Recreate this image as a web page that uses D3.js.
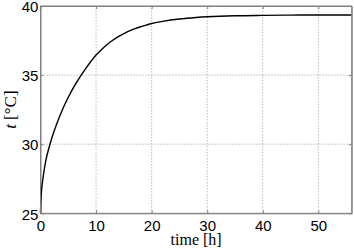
<!DOCTYPE html>
<html><head><meta charset="utf-8">
<script src="https://cdn.jsdelivr.net/npm/d3@7"></script>
<style>body{margin:0;background:#fff}svg{display:block}</style>
</head><body><div id="c"></div>
<script>
const timeH = [0, 0.05, 0.2, 0.4, 1, 2, 3, 4, 5, 6, 7, 8, 9, 10, 11, 12, 13, 14, 15, 16, 17, 18, 19, 20, 22, 25, 28, 30, 35, 40, 45, 50, 56];
const tempC = [25, 25.7, 26.7, 27.4, 28.9, 30.4, 31.55, 32.55, 33.4, 34.15, 34.8, 35.4, 35.95, 36.45, 36.86, 37.22, 37.52, 37.78, 38.0, 38.2, 38.36, 38.5, 38.62, 38.73, 38.89, 39.06, 39.17, 39.22, 39.29, 39.32, 39.34, 39.35, 39.35];
const xTicks = [0, 10, 20, 30, 40, 50];
const yTicks = [25, 30, 35, 40];

const W = 354, H = 251;
const m = {l: 40.5, r: 2.3, t: 6, b: 37.7};
const svg = d3.select("#c").append("svg").attr("width", W).attr("height", H);
const x = d3.scaleLinear().domain([0, 56]).range([m.l, W - m.r]);
const y = d3.scaleLinear().domain([25, 40]).range([H - m.b, m.t]);
const axC = "#808080";

// grid
svg.append("g").selectAll("line").data(xTicks.filter(d => d > 0)).join("line")
  .attr("x1", d => x(d)).attr("x2", d => x(d)).attr("y1", y(25)).attr("y2", y(40))
  .attr("stroke", "#999").attr("stroke-width", 1).attr("stroke-dasharray", "1,2");
svg.append("g").selectAll("line").data(yTicks.filter(d => d > 25 && d < 40)).join("line")
  .attr("y1", d => y(d)).attr("y2", d => y(d)).attr("x1", x(0)).attr("x2", x(56))
  .attr("stroke", "#999").attr("stroke-width", 1).attr("stroke-dasharray", "1,2");

// axes
const fnt = "'Liberation Sans', Arial, sans-serif";
const xa = svg.append("g").attr("transform", `translate(0,${y(25)})`)
  .call(d3.axisBottom(x).tickValues(xTicks).tickSizeInner(-3).tickSizeOuter(0).tickPadding(7));
const ya = svg.append("g").attr("transform", `translate(${x(0)},0)`)
  .call(d3.axisLeft(y).tickValues(yTicks).tickSizeInner(-3).tickSizeOuter(0).tickPadding(2.2));
svg.append("g").attr("transform", `translate(0,${y(40)})`)
  .call(d3.axisTop(x).tickValues(xTicks).tickSizeInner(-3).tickSizeOuter(0).tickFormat(""));
svg.append("g").attr("transform", `translate(${x(56)},0)`)
  .call(d3.axisRight(y).tickValues(yTicks).tickSizeInner(-3).tickSizeOuter(0).tickFormat(""));
svg.selectAll(".domain").attr("stroke", axC);
svg.selectAll(".tick line").attr("stroke", axC);
svg.selectAll(".tick text").attr("font-family", fnt).attr("font-size", 15).attr("fill", "#000");
ya.selectAll(".tick text").attr("dy", "0.38em");

// line
svg.append("path").datum(timeH.map((t, i) => [t, tempC[i]]))
  .attr("d", d3.line().x(d => x(d[0])).y(d => y(d[1])).curve(d3.curveCatmullRom.alpha(0.5)))
  .attr("fill", "none").attr("stroke", "#000").attr("stroke-width", 1.4);

// box border
svg.append("rect").attr("x", x(0)).attr("y", y(40)).attr("width", x(56) - x(0)).attr("height", y(25) - y(40))
  .attr("fill", "none").attr("stroke", axC).attr("stroke-width", 1);

// labels
const serif = "'Liberation Serif', 'DejaVu Serif', serif";
svg.append("text").attr("x", (x(0) + x(56)) / 2).attr("y", 245).attr("text-anchor", "middle")
  .attr("font-family", serif).attr("font-size", 16).text("time [h]");
const yl = svg.append("text").attr("transform", `translate(15.5,${(y(25) + y(40)) / 2}) rotate(-90)`)
  .attr("text-anchor", "middle").attr("font-family", serif).attr("font-size", 17);
yl.append("tspan").attr("font-style", "italic").text("t");
yl.append("tspan").text(" [°C]");
</script></body></html>
